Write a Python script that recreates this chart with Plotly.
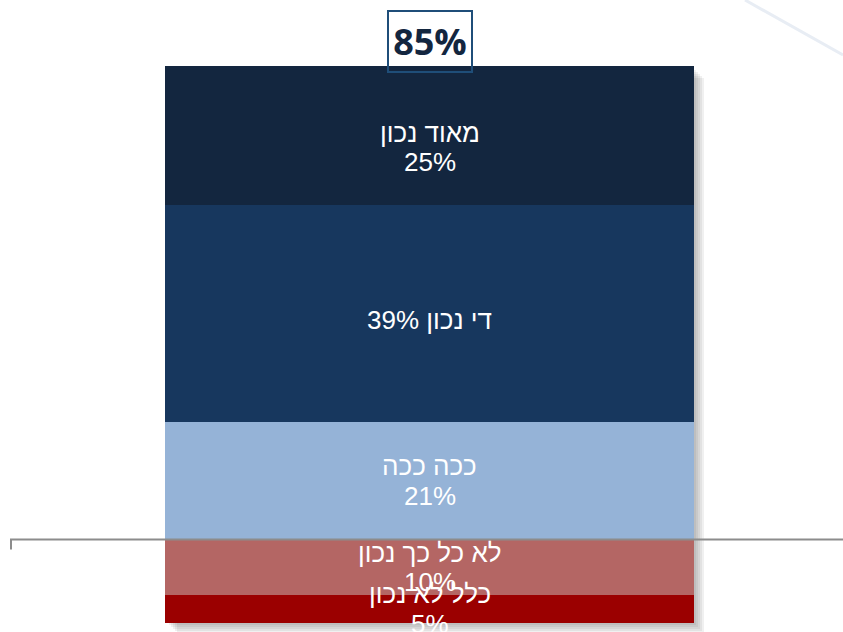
import plotly.graph_objects as go

# Survey answers, stacked around zero: agreement above, disagreement below
categories = ["לא כל כך נכון", "כלל לא נכון", "ככה ככה", "די נכון", "מאוד נכון"]
values = [-10, -5, 21, 39, 25]
colors = ["#b46664", "#9b0000", "#95b3d7", "#17375e", "#13263f"]
# label lines shown inside each segment (one or two lines)
label_lines = [
    ["לא כל כך נכון", "10%"],
    ["כלל לא נכון", "5%"],
    ["ככה ככה", "21%"],
    ["39% די נכון"],
    ["מאוד נכון", "25%"],
]
# extra downward nudge (px) of each segment's label block
label_nudge = [0, 0, 0, 6, 12]

W, H = 843, 632
BAR_LEFT, BAR_RIGHT = 165, 694
BAR_TOP_PX, BAR_BOT_PX = 66, 623

pos_total = sum(v for v in values if v > 0)
neg_total = sum(v for v in values if v < 0)
ppu_y = (BAR_BOT_PX - BAR_TOP_PX) / (pos_total - neg_total)
ppu_x = BAR_RIGHT - BAR_LEFT
y_range = [neg_total - (H - BAR_BOT_PX) / ppu_y, pos_total + BAR_TOP_PX / ppu_y]
x_range = [-0.5 - BAR_LEFT / ppu_x, 0.5 + (W - BAR_RIGHT) / ppu_x]

fig = go.Figure()
for cat, v, c in zip(categories, values, colors):
    fig.add_trace(go.Bar(x=[0], y=[v], name=cat, width=1, marker=dict(color=c, line=dict(width=0)),
                         hoverinfo="skip", showlegend=False))

# segment labels, placed at each segment's midpoint
font = dict(family="Liberation Sans, Arial, sans-serif", size=26, color="white")
annotations = []
pos_acc, neg_acc = 0, 0
for v, lines, nudge in zip(values, label_lines, label_nudge):
    if v >= 0:
        mid = pos_acc + v / 2
        pos_acc += v
    else:
        mid = neg_acc + v / 2
        neg_acc += v
    n = len(lines)
    for i, line in enumerate(lines):
        shift = ((n - 1) / 2 - i) * 29.5 - nudge
        annotations.append(dict(x=0, y=mid, xref="x", yref="y", text=line, showarrow=False,
                                font=font, yshift=shift, xanchor="center", yanchor="middle"))

# total of the positive answers, boxed above the bar
annotations.append(dict(x=0, y=pos_total, xref="x", yref="y", text=f"<b>{pos_total}%</b>",
                        showarrow=False, yanchor="bottom", xanchor="center", yshift=-7,
                        font=dict(family="Open Sans, sans-serif", size=36, color="#13263f"),
                        bordercolor="#1f4e79", borderwidth=2, borderpad=0,
                        width=82, height=59, bgcolor="rgba(255,255,255,0)"))

shapes = []
# soft drop shadow behind the bar
for k in [2, 4, 6, 8, 10]:
    shapes.append(dict(type="rect", xref="x", yref="y", layer="below",
                       x0=-0.5 + (k + 2) / ppu_x, x1=0.5 + k / ppu_x,
                       y0=neg_total - k / ppu_y, y1=pos_total - (k + 2) / ppu_y,
                       fillcolor="rgba(90,90,90,0.09)", line=dict(width=0)))
# zero baseline with a small tick at its left end
shapes.append(dict(type="line", xref="paper", yref="y", x0=10 / W, x1=1, y0=0, y1=0,
                   line=dict(color="#8c8c8c", width=2), layer="above"))
shapes.append(dict(type="line", xref="paper", yref="y", x0=11 / W, x1=11 / W, y0=0, y1=-10 / ppu_y,
                   line=dict(color="#8c8c8c", width=2), layer="above"))
# faint decorative stroke in the top-right corner
shapes.append(dict(type="line", xref="paper", yref="paper", x0=745 / W, y0=1.0, x1=1.0, y1=1 - 55 / H,
                   line=dict(color="#e8edf4", width=3), layer="below"))

fig.update_layout(
    width=W, height=H, margin=dict(l=0, r=0, t=0, b=0),
    barmode="relative", bargap=0,
    paper_bgcolor="white", plot_bgcolor="white",
    xaxis=dict(range=x_range, visible=False, fixedrange=True),
    yaxis=dict(range=y_range, visible=False, fixedrange=True),
    annotations=annotations, shapes=shapes,
)

fig.write_html("out.html")
